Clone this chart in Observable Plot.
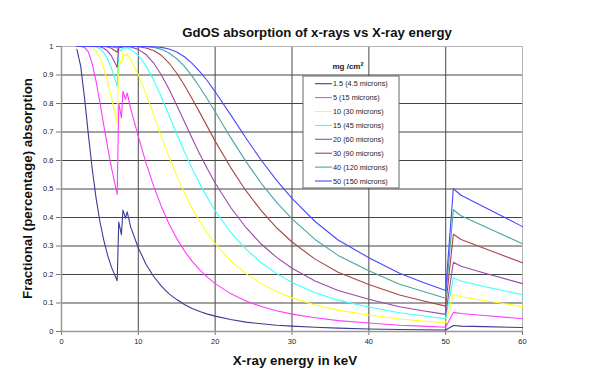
<!DOCTYPE html>
<html><head><meta charset="utf-8">
<script src="https://cdn.jsdelivr.net/npm/d3@7"></script>
<script src="https://cdn.jsdelivr.net/npm/@observablehq/plot@0.6"></script>
<style>
body{margin:0;background:#fff;font-family:"Liberation Sans",Arial,sans-serif;}
#wrap{position:relative;width:604px;height:375px;overflow:hidden;background:#fff;}
#wrap svg{position:absolute;left:0;top:0;}
</style></head>
<body><div id="wrap"></div>
<script>
// X-ray energy (keV)
const energy = [2, 2.5, 3, 3.5, 4, 4.5, 5, 5.5, 6, 6.5, 7.25, 7.45, 7.8, 8.0, 8.33, 8.55, 9, 10, 11, 12, 13, 14, 15, 16, 17, 18, 19, 20, 22, 24, 26, 28, 30, 33, 36, 40, 44, 47, 50, 51, 52, 55, 60];
// fractional absorption per coating weight (mg/cm2)
const abs1_5 = [0.990,0.931,0.819,0.690,0.570,0.468,0.386,0.321,0.268,0.226, 0.178,0.384,0.340,0.426,0.398,0.420, 0.367,0.293,0.236,0.193,0.159,0.132,0.112,0.095,0.081,0.070,0.061,0.054, 0.042,0.033,0.027,0.022,0.019,0.015,0.012,0.009,0.007,0.006,0.005, 0.021,0.019,0.017,0.014];
const abs5 = [1.000,1.000,0.997,0.980,0.940,0.878,0.804,0.724,0.647,0.575, 0.481,0.801,0.750,0.843,0.815,0.837, 0.782,0.685,0.591,0.510,0.438,0.377,0.326,0.283,0.246,0.216,0.190,0.168, 0.133,0.107,0.088,0.073,0.061,0.048,0.038,0.030,0.022,0.019,0.015, 0.067,0.063,0.056,0.045];
const abs10 = [1.000,1.000,1.000,1.000,0.996,0.985,0.961,0.924,0.875,0.820, 0.730,0.960,0.937,0.975,0.966,0.973, 0.953,0.901,0.833,0.760,0.684,0.612,0.546,0.486,0.432,0.386,0.344,0.308, 0.249,0.203,0.168,0.140,0.118,0.093,0.075,0.058,0.044,0.037,0.031, 0.130,0.122,0.109,0.088];
const abs15 = [1,1,1,1,1.000,0.998,0.992,0.979,0.956,0.923, 0.860,0.992,0.984,0.996,0.994,0.996, 0.990,0.969,0.932,0.882,0.823,0.758,0.694,0.631,0.572,0.518,0.469,0.424, 0.349,0.289,0.241,0.203,0.172,0.136,0.110,0.086,0.066,0.055,0.045, 0.188,0.177,0.158,0.129];
const abs20 = [1,1,1,1,1,1.000,0.999,0.994,0.984,0.967, 0.927,0.998,0.996,0.999,0.999,0.999, 0.998,0.990,0.972,0.942,0.900,0.850,0.794,0.736,0.678,0.622,0.570,0.521, 0.436,0.365,0.307,0.260,0.222,0.177,0.144,0.113,0.087,0.073,0.060, 0.243,0.229,0.205,0.168];
const abs30 = [1,1,1,1,1,1,1,1.000,0.998,0.994, 0.980,1,1,1,1,1, 1.000,0.999,0.995,0.986,0.969,0.942,0.906,0.864,0.817,0.768,0.718,0.668, 0.576,0.494,0.424,0.364,0.314,0.254,0.208,0.165,0.128,0.108,0.089, 0.341,0.323,0.292,0.241];
const abs40 = [1,1,1,1,1,1,1,1,1.000,0.999, 0.995,1,1,1,1,1, 1,1.000,0.999,0.997,0.990,0.977,0.957,0.930,0.896,0.857,0.815,0.771, 0.681,0.597,0.520,0.453,0.395,0.323,0.267,0.213,0.166,0.141,0.117, 0.427,0.406,0.369,0.308];
const abs50 = [1,1,1,1,1,1,1,1,1,1.000, 0.999,1,1,1,1,1, 1,1,1.000,0.999,0.997,0.991,0.981,0.964,0.941,0.912,0.879,0.841, 0.761,0.679,0.601,0.530,0.467,0.386,0.321,0.259,0.204,0.173,0.144, 0.501,0.478,0.437,0.368];
const seriesLabels = ["1.5 (4.5 microns)", "5 (15 microns)", "10 (30 microns)", "15 (45 microns)", "20 (60 microns)", "30 (90 microns)", "40 (120 microns)", "50 (150 microns)"];
const xTicks = [0, 10, 20, 30, 40, 50, 60];
const yTicks = [0, 0.1, 0.2, 0.3, 0.4, 0.5, 0.6, 0.7, 0.8, 0.9, 1];

const seriesColors = ["#3c3c94", "#ff3cff", "#ffff1e", "#3cffff", "#9c48ac", "#a84646", "#48a6a0", "#4848ff"];
const seriesValues = [abs1_5, abs5, abs10, abs15, abs20, abs30, abs40, abs50];

const rows = [];
seriesValues.forEach((vals, i) => vals.forEach((v, j) => rows.push({E: energy[j], v, s: seriesLabels[i]})));

const FONT = '"Liberation Sans", Arial, sans-serif';
const plot = Plot.plot({
  width: 604, height: 375,
  marginTop: 46, marginRight: 82, marginBottom: 44, marginLeft: 61,
  style: {fontFamily: FONT, fontSize: "7.5px", color: "#222", background: "transparent"},
  x: {domain: [0, 60]},
  y: {domain: [0, 1]},
  color: {domain: seriesLabels, range: seriesColors},
  marks: [
    Plot.gridX(xTicks.filter(d => d > 0 && d < 60), {stroke: "#666", strokeOpacity: 1, strokeWidth: 1.2}),
    Plot.gridY(yTicks.filter(d => d > 0 && d < 1), {stroke: "#444", strokeOpacity: 1, strokeWidth: 1}),
    Plot.frame({stroke: "#b4b4b4"}),
    Plot.axisX(xTicks, {tickSize: 4, tickPadding: 3, label: null, stroke: "#777", tickFormat: d => String(d)}),
    Plot.axisY(yTicks, {tickSize: 5, tickPadding: 3, label: null, stroke: "#777", tickFormat: d => String(+d.toFixed(1))}),
    Plot.ruleX([0], {stroke: "#999", strokeWidth: 1.5}),
    Plot.ruleY([0], {stroke: "#999", strokeWidth: 1.5}),
    Plot.line(rows, {x: "E", y: "v", z: "s", stroke: "s", strokeWidth: 1.1})
  ]
});
const wrap = document.getElementById("wrap");
wrap.appendChild(plot);

// overlay: title, axis titles, legend
const ns = "http://www.w3.org/2000/svg";
const ov = d3.select(wrap).append("svg").attr("width", 604).attr("height", 375)
  .style("font-family", FONT).style("pointer-events", "none");
ov.append("text").attr("x", 317).attr("y", 37).attr("text-anchor", "middle")
  .attr("font-weight", "bold").attr("font-size", 13.2).attr("fill", "#111")
  .text("GdOS absorption of x-rays vs X-ray energy");
ov.append("text").attr("x", 295).attr("y", 365).attr("text-anchor", "middle")
  .attr("font-weight", "bold").attr("font-size", 13.4).attr("fill", "#111")
  .text("X-ray energy in keV");
ov.append("text").attr("transform", "translate(31.5,188.5) rotate(-90)").attr("text-anchor", "middle")
  .attr("font-weight", "bold").attr("font-size", 13.4).attr("fill", "#111")
  .text("Fractional (percentage) absorption");

const lg = ov.append("g");
const lt = lg.append("text").attr("x", 348).attr("y", 68.5).attr("text-anchor", "middle")
  .attr("font-weight", "bold").attr("font-size", 8).attr("fill", "#222");
lt.append("tspan").text("mg /cm");
lt.append("tspan").attr("dy", -3).attr("font-size", 5.5).text("2");
lg.append("rect").attr("x", 303).attr("y", 76).attr("width", 96).attr("height", 112)
  .attr("fill", "#fff").attr("stroke", "#666").attr("stroke-width", 1);
seriesLabels.forEach((lab, i) => {
  const y = 83.7 + i * 13.9;
  lg.append("line").attr("x1", 315).attr("x2", 332).attr("y1", y).attr("y2", y)
    .attr("stroke", seriesColors[i]).attr("stroke-width", 1.1);
  lg.append("text").attr("x", 333).attr("y", y).attr("dy", "0.35em")
    .attr("font-size", 7.3).attr("fill", "#222").text(lab);
});
</script>
</body></html>
